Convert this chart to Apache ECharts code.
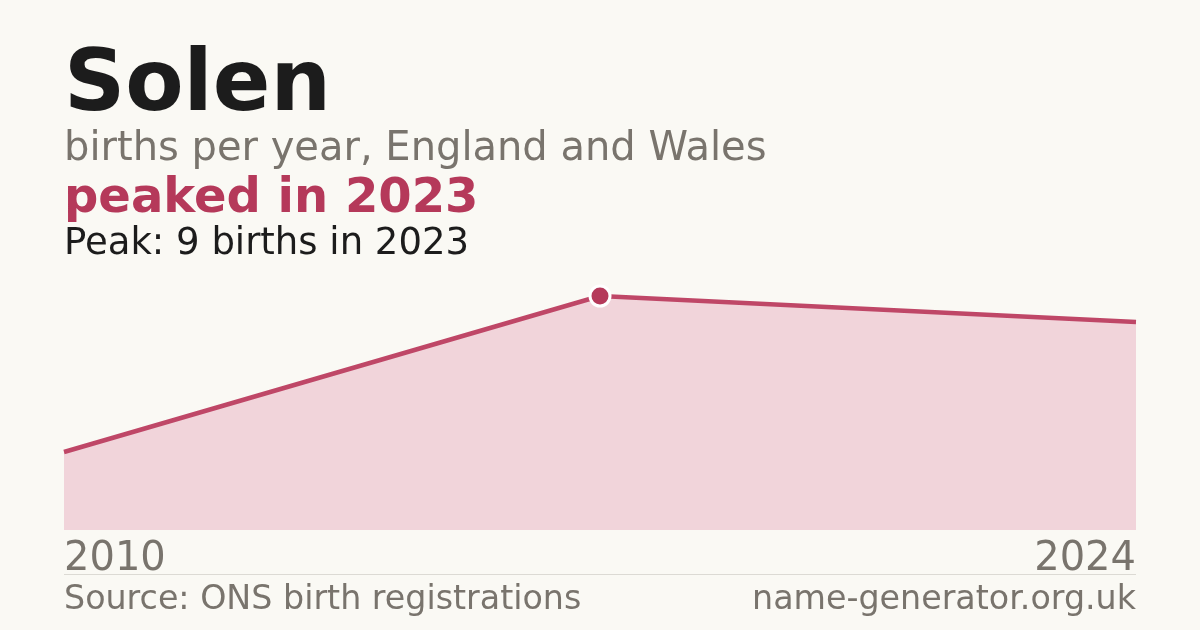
<!DOCTYPE html>
<html><head><meta charset="utf-8">
<script src="https://cdn.jsdelivr.net/npm/echarts@6/dist/echarts.min.js"></script>
<style>html,body{margin:0;padding:0;background:#faf9f4}#c{width:1200px;height:630px}</style>
</head><body><div id="c"></div>
<script>
const years = ['2010', '2023', '2024'];
const births = [3, 9, 8];
const peakIndex = 1;
const titleText = 'Solen';
const subtitleText = 'births per year, England and Wales';
const headlineText = 'peaked in 2023';
const peakText = 'Peak: 9 births in 2023';
const sourceText = 'Source: ONS birth registrations';
const siteText = 'name-generator.org.uk';

const FONT = 'DejaVu Sans';
const chart = echarts.init(document.getElementById('c'), null, {renderer: 'canvas'});
const seriesData = births.map((v, i) => i === peakIndex
  ? {value: v, symbol: 'circle', symbolSize: 20, itemStyle: {color: '#b5395a', borderColor: '#ffffff', borderWidth: 3}}
  : {value: v});
chart.setOption({
  backgroundColor: '#faf9f4',
  animation: false,
  grid: {left: 64, right: 64, top: 270, bottom: 100, containLabel: false},
  xAxis: {
    type: 'category', data: years, boundaryGap: false,
    axisLine: {show: false}, axisTick: {show: false}, splitLine: {show: false},
    axisLabel: {
      show: true, fontFamily: FONT, fontSize: 40, color: '#79746d', margin: 10,
      interval: (i) => i === 0 || i === years.length - 1,
      alignMinLabel: 'left', alignMaxLabel: 'right'
    }
  },
  yAxis: {type: 'value', min: 0, max: 10, show: false, splitLine: {show: false}},
  series: [{
    type: 'line', data: seriesData, symbol: 'none', showSymbol: true,
    lineStyle: {color: '#bf4767', width: 4.5},
    areaStyle: {color: '#f1d4da', opacity: 1},
    z: 2
  }],
  graphic: [
    {type: 'text', left: 64, top: 45, style: {text: titleText, font: 'bold 85px "DejaVu Sans"', fill: '#1c1c1c'}},
    {type: 'text', left: 64, top: 130, style: {text: subtitleText, font: '40px "DejaVu Sans"', fill: '#79746d'}},
    {type: 'text', left: 64, top: 176, style: {text: headlineText, font: 'bold 48px "DejaVu Sans"', fill: '#b5395a'}},
    {type: 'text', left: 64, top: 226, style: {text: peakText, font: '37px "DejaVu Sans"', fill: '#1c1c1c'}},
    {type: 'rect', shape: {x: 64, y: 574, width: 1072, height: 1}, style: {fill: '#dcdad4'}},
    {type: 'text', left: 64, top: 584, style: {text: sourceText, font: '33.3px "DejaVu Sans"', fill: '#79746d'}},
    {type: 'text', right: 64, top: 584, style: {text: siteText, font: '33.3px "DejaVu Sans"', fill: '#79746d', textAlign: 'right'}}
  ]
});
</script></body></html>
